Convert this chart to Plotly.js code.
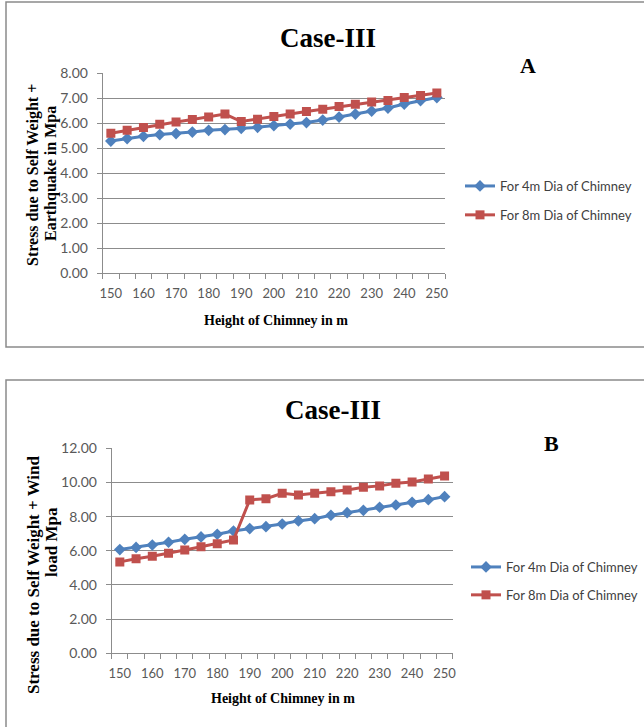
<!DOCTYPE html>
<html>
<head>
<meta charset="utf-8">
<script src="https://cdn.plot.ly/plotly-3.0.1.min.js"></script>
<style>
html,body{margin:0;padding:0;background:#fff;}
#chart{width:644px;height:727px;}
</style>
</head>
<body>
<div id="chart"></div>
<script>
// Heights of chimney (m)
const heights = [150,155,160,165,170,175,180,185,190,195,200,205,210,215,220,225,230,235,240,245,250];
const xTickVals = [150,160,170,180,190,200,210,220,230,240,250];

// Chart A: Self Weight + Earthquake (MPa)
const stressEQ_4m = [5.29,5.39,5.48,5.55,5.59,5.65,5.72,5.75,5.80,5.84,5.91,5.97,6.03,6.13,6.25,6.37,6.49,6.61,6.77,6.91,7.03];
const stressEQ_8m = [5.60,5.72,5.83,5.96,6.05,6.15,6.25,6.37,6.07,6.16,6.27,6.37,6.47,6.56,6.67,6.76,6.85,6.91,7.03,7.11,7.21];

// Chart B: Self Weight + Wind load (MPa)
const stressWind_4m = [6.07,6.20,6.34,6.50,6.67,6.81,6.97,7.16,7.30,7.41,7.57,7.75,7.88,8.08,8.23,8.37,8.55,8.68,8.84,8.99,9.17];
const stressWind_8m = [5.35,5.54,5.68,5.85,6.05,6.24,6.42,6.63,8.98,9.05,9.37,9.27,9.37,9.46,9.56,9.72,9.80,9.95,10.03,10.20,10.38];

const seriesNames = ['For 4m Dia of Chimney','For 8m Dia of Chimney'];

const W = 644, H = 727;
const px = v => v / W;
const py = v => 1 - v / H;

const BLUE = '#4F81BD', RED = '#C0504D';
const GRID = '#8C8C8C';
const tickFont = {family: 'Lato, "Open Sans", sans-serif', size: 13, color: '#595959'};
const serif = '"Liberation Serif", "Times New Roman", serif';

function mk(y, name, color, symbol, size, xa, ya, lg) {
  return {
    x: heights, y: y, name: name, type: 'scatter', mode: 'lines+markers',
    xaxis: xa, yaxis: ya, legend: lg, legendgroup: lg + name,
    line: {color: color, width: 3},
    marker: {color: color, symbol: symbol, size: size}
  };
}

const data = [
  mk(stressEQ_4m, seriesNames[0], BLUE, 'diamond', 9, 'x', 'y', 'legend'),
  mk(stressEQ_8m, seriesNames[1], RED, 'square', 9, 'x', 'y', 'legend'),
  mk(stressWind_4m, seriesNames[0], BLUE, 'diamond', 9, 'x2', 'y2', 'legend2'),
  mk(stressWind_8m, seriesNames[1], RED, 'square', 9, 'x2', 'y2', 'legend2')
];

function xAxis(domain, anchor) {
  return {
    domain: domain, anchor: anchor, range: [147.5, 252.5],
    tickmode: 'array', tickvals: xTickVals, ticktext: xTickVals.map(String),
    ticks: '', showgrid: false, zeroline: false,
    showline: true, linecolor: GRID, linewidth: 1,
    tickfont: tickFont, ticklabelstandoff: 8,
    minor: {tick0: 147.5, dtick: 5, ticks: 'outside', ticklen: 5, tickcolor: GRID, tickwidth: 1, showgrid: false},
    fixedrange: true
  };
}
function yAxis(domain, anchor, max, dtick) {
  return {
    domain: domain, anchor: anchor, range: [0, max], dtick: dtick, tick0: 0,
    tickformat: '.2f', ticks: 'outside', ticklen: 5, tickcolor: GRID,
    showgrid: true, gridcolor: GRID, gridwidth: 1, zeroline: false,
    showline: true, linecolor: GRID, linewidth: 1,
    tickfont: Object.assign({}, tickFont, {size: 14}), ticklabelstandoff: 6,
    fixedrange: true
  };
}

const annText = (text, x, y, size, angle) => ({
  xref: 'paper', yref: 'paper', x: px(x), y: py(y), xanchor: 'center', yanchor: 'middle',
  text: text, showarrow: false, textangle: angle || 0,
  font: {family: serif, size: size, color: '#000'}
});

const layout = {
  width: W, height: H, autosize: false,
  margin: {l: 0, r: 0, t: 0, b: 0},
  paper_bgcolor: '#fff', plot_bgcolor: '#fff',
  xaxis: xAxis([px(102.7), px(445)], 'y'),
  yaxis: yAxis([py(273.3), py(73.3)], 'x', 8, 1),
  xaxis2: xAxis([px(111.7), px(452.7)], 'y2'),
  yaxis2: yAxis([py(653.3), py(448.3)], 'x2', 12, 2),
  legend: {
    x: px(460), y: py(171), xanchor: 'left', yanchor: 'top',
    bgcolor: 'rgba(0,0,0,0)', font: {family: 'Lato, "Open Sans", sans-serif', size: 13, color: '#404040'},
    tracegroupgap: 9, itemclick: false
  },
  legend2: {
    x: px(466), y: py(552), xanchor: 'left', yanchor: 'top',
    bgcolor: 'rgba(0,0,0,0)', font: {family: 'Lato, "Open Sans", sans-serif', size: 13, color: '#404040'},
    tracegroupgap: 8, itemclick: false
  },
  shapes: [
    {type: 'rect', xref: 'paper', yref: 'paper', x0: px(6), x1: px(650), y0: py(347), y1: py(2), line: {color: '#8A8A8A', width: 1.5}},
    {type: 'rect', xref: 'paper', yref: 'paper', x0: px(6), x1: px(650), y0: py(735), y1: py(380), line: {color: '#8A8A8A', width: 1.5}}
  ],
  annotations: [
    annText('<b>Case-III</b>', 328, 38, 27),
    annText('<b>A</b>', 528, 65, 22),
    annText('<b>Stress due to Self Weight +</b>', 33, 175, 16, -90),
    annText('<b>Earthquake in Mpa</b>', 51, 174, 16, -90),
    annText('<b>Height of Chimney in m</b>', 276, 320, 14),
    annText('<b>Case-III</b>', 333, 410, 27),
    annText('<b>B</b>', 551, 443, 22),
    annText('<b>Stress due to Self Weight + Wind</b>', 33, 575, 17, -90),
    annText('<b>load Mpa</b>', 51, 542, 17, -90),
    annText('<b>Height of Chimney in m</b>', 283, 698, 14)
  ]
};

Plotly.newPlot('chart', data, layout, {displayModeBar: false, staticPlot: true});
</script>
</body>
</html>
